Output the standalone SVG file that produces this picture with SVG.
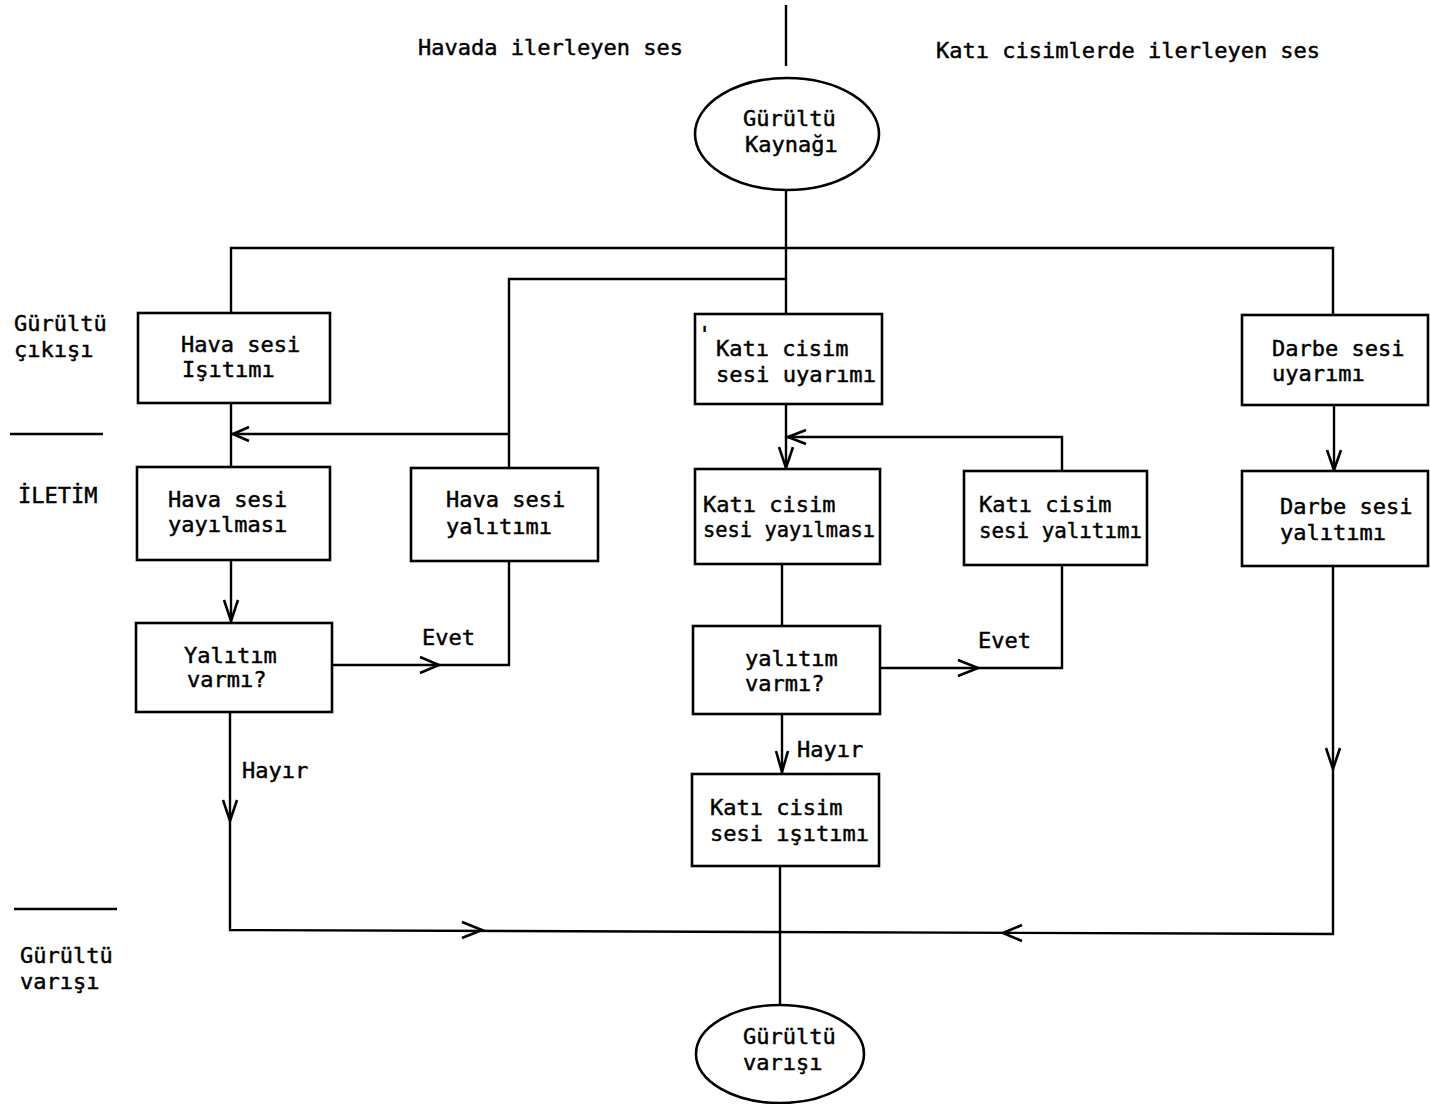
<svg xmlns="http://www.w3.org/2000/svg" width="1430" height="1104" viewBox="0 0 1430 1104">
<style>
text{font-family:"DejaVu Sans Mono","Liberation Mono",monospace;font-size:22px;fill:#000;stroke:#000;stroke-width:0.45;}
.box{fill:#fff;stroke:#000;stroke-width:2.6;}
.ln{fill:none;stroke:#000;stroke-width:2.4;}
.ar{fill:none;stroke:#000;stroke-width:2.6;stroke-linejoin:miter;}
</style>
<rect width="1430" height="1104" fill="#fff"/>
<g id="labels">
<text x="418" y="55">Havada ilerleyen ses</text>
<text x="936" y="58">Katı cisimlerde ilerleyen ses</text>
<text x="14" y="331">Gürültü</text>
<text x="14" y="357">çıkışı</text>
<text x="18" y="503">İLETİM</text>
<text x="20" y="963">Gürültü</text>
<text x="20" y="989">varışı</text>
<line class="ln" x1="10" y1="434" x2="103" y2="434"/>
<line class="ln" x1="14" y1="909" x2="117" y2="909"/>
<text x="422" y="645">Evet</text>
<text x="978" y="648">Evet</text>
<text x="242" y="778">Hayır</text>
<text x="797" y="757">Hayır</text>
</g>
<g id="connectors">
<line class="ln" x1="786" y1="5" x2="786" y2="66"/>
<polyline class="ln" points="231,313 231,248 1333,248 1333,315"/>
<polyline class="ln" points="509,468 509,279 786,279"/>
<line class="ln" x1="786" y1="190" x2="786" y2="314"/>
<line class="ln" x1="231" y1="403" x2="231" y2="467"/>
<line class="ln" x1="231" y1="434" x2="509" y2="434"/>
<line class="ln" x1="231" y1="560" x2="231" y2="623"/>
<polyline class="ln" points="332,665 509,665 509,561"/>
<polyline class="ln" points="230,712 230,930 1333,934 1333,566"/>
<line class="ln" x1="786" y1="404" x2="786" y2="469"/>
<polyline class="ln" points="786,437 1062,437 1062,471"/>
<line class="ln" x1="782" y1="564" x2="782" y2="626"/>
<polyline class="ln" points="880,668 1062,668 1062,565"/>
<line class="ln" x1="782" y1="714" x2="782" y2="774"/>
<line class="ln" x1="780" y1="866" x2="780" y2="1005"/>
<line class="ln" x1="1334" y1="405" x2="1334" y2="471"/>
<path class="ar" d="M249,427 L233,434 L249,441"/>
<path class="ar" d="M224,600 L231,621 L238,600"/>
<path class="ar" d="M420,657 L439,665 L420,673"/>
<path class="ar" d="M223,800 L230,821 L237,800"/>
<path class="ar" d="M462,922 L482,930 L462,938"/>
<path class="ar" d="M1022,925 L1003,933 L1022,941"/>
<path class="ar" d="M1326,748 L1333,769 L1340,748"/>
<path class="ar" d="M1327,450 L1334,470 L1341,450"/>
<path class="ar" d="M779,447 L786,468 L793,447"/>
<path class="ar" d="M806,430 L788,437 L806,444"/>
<path class="ar" d="M958,660 L978,668 L958,676"/>
<path class="ar" d="M776,751 L782,772 L788,751"/>
</g>
<g id="n-kaynak">
<ellipse class="box" cx="787" cy="134" rx="92" ry="56"/>
<text x="743" y="126">Gürültü</text>
<text x="745" y="152">Kaynağı</text>
</g>
<g id="n-hava-isitimi">
<rect class="box" x="138" y="313" width="192" height="90"/>
<text x="181" y="352">Hava sesi</text>
<text x="182" y="377">Işıtımı</text>
</g>
<g id="n-kati-uyarimi">
<rect class="box" x="695" y="314" width="187" height="90"/>
<text x="698" y="342">'</text>
<text x="716" y="356">Katı cisim</text>
<text x="716" y="382" textLength="160" lengthAdjust="spacingAndGlyphs">sesi uyarımı</text>
</g>
<g id="n-darbe-uyarimi">
<rect class="box" x="1242" y="315" width="186" height="90"/>
<text x="1272" y="356">Darbe sesi</text>
<text x="1272" y="381">uyarımı</text>
</g>
<g id="n-hava-yayilmasi">
<rect class="box" x="137" y="467" width="193" height="93"/>
<text x="168" y="507">Hava sesi</text>
<text x="168" y="532">yayılması</text>
</g>
<g id="n-hava-yalitimi">
<rect class="box" x="411" y="468" width="187" height="93"/>
<text x="446" y="507">Hava sesi</text>
<text x="446" y="534">yalıtımı</text>
</g>
<g id="n-kati-yayilmasi">
<rect class="box" x="695" y="469" width="185" height="95"/>
<text x="703" y="512">Katı cisim</text>
<text x="703" y="537" textLength="172" lengthAdjust="spacingAndGlyphs">sesi yayılması</text>
</g>
<g id="n-kati-yalitimi">
<rect class="box" x="964" y="471" width="183" height="94"/>
<text x="979" y="512">Katı cisim</text>
<text x="979" y="538" textLength="163" lengthAdjust="spacingAndGlyphs">sesi yalıtımı</text>
</g>
<g id="n-darbe-yalitimi">
<rect class="box" x="1242" y="471" width="186" height="95"/>
<text x="1280" y="514">Darbe sesi</text>
<text x="1280" y="540">yalıtımı</text>
</g>
<g id="n-yalitim-1">
<rect class="box" x="136" y="623" width="196" height="89"/>
<text x="184" y="663">Yalıtım</text>
<text x="187" y="687">varmı?</text>
</g>
<g id="n-yalitim-2">
<rect class="box" x="693" y="626" width="187" height="88"/>
<text x="745" y="666">yalıtım</text>
<text x="745" y="691">varmı?</text>
</g>
<g id="n-kati-isitimi">
<rect class="box" x="692" y="774" width="187" height="92"/>
<text x="710" y="815">Katı cisim</text>
<text x="710" y="841">sesi ışıtımı</text>
</g>
<g id="n-varis">
<ellipse class="box" cx="780" cy="1054" rx="84" ry="49"/>
<text x="743" y="1044">Gürültü</text>
<text x="743" y="1070">varışı</text>
</g>
</svg>
